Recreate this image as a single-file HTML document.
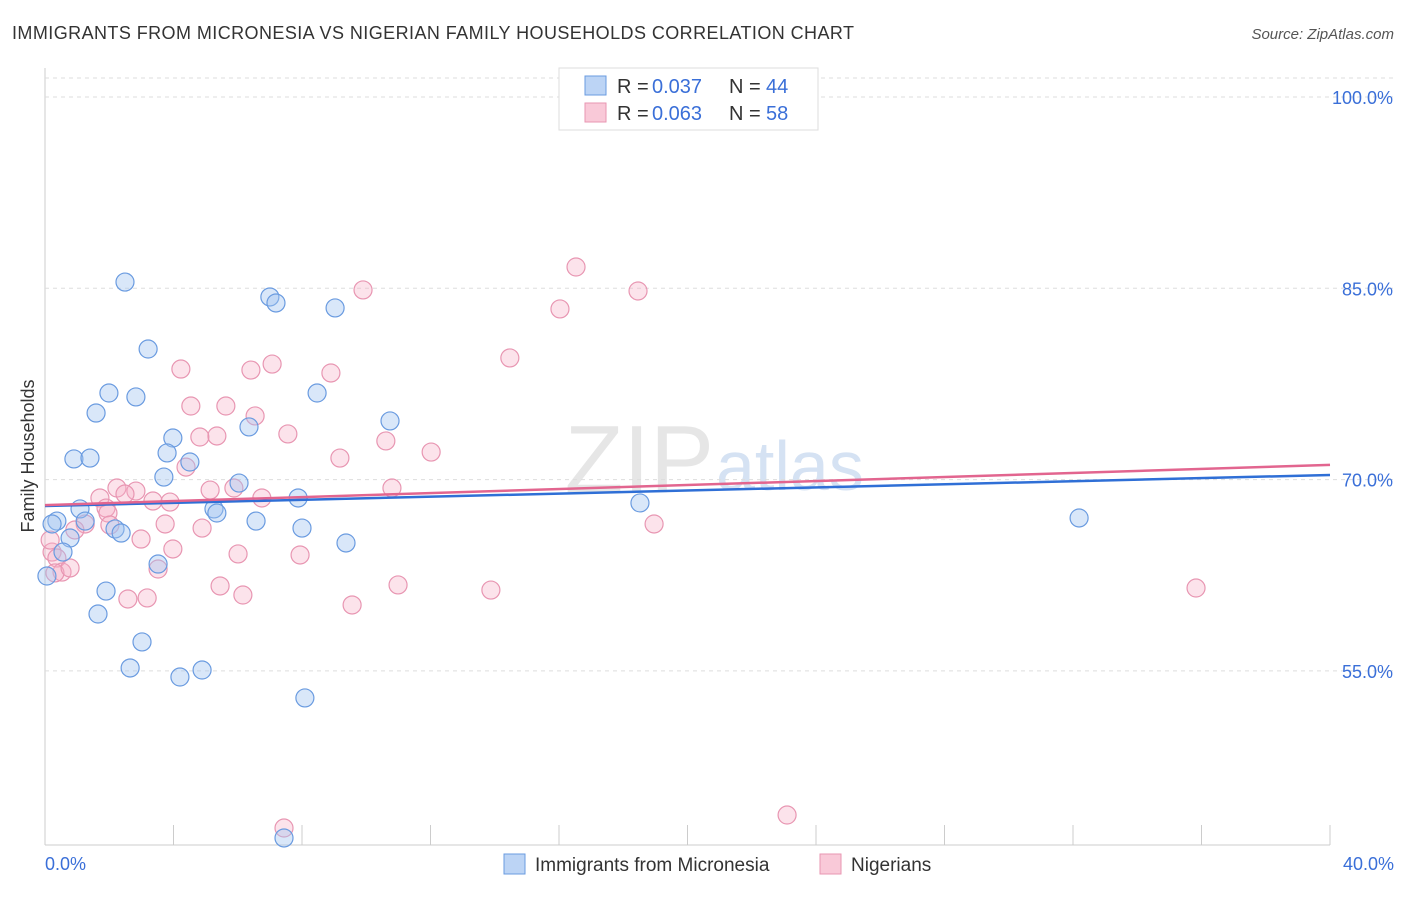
<!DOCTYPE html>
<html><head><meta charset="utf-8"><style>
body{margin:0;background:#fff;font-family:"Liberation Sans",sans-serif}
svg text{font-family:"Liberation Sans",sans-serif}
</style></head><body>
<svg width="1406" height="892" xmlns="http://www.w3.org/2000/svg">
<text x="12" y="39" font-size="18" fill="#333" textLength="842">IMMIGRANTS FROM MICRONESIA VS NIGERIAN FAMILY HOUSEHOLDS CORRELATION CHART</text>
<text x="1394" y="39" font-size="15" fill="#555" font-style="italic" text-anchor="end">Source: ZipAtlas.com</text>
<text x="714" y="492" font-size="96" fill="#e6e6e6" font-family="Liberation Serif" text-anchor="end">ZIP</text>
<text x="716" y="490" font-size="70" fill="#d5e2f3">atlas</text>
<g id="grid"></g><g id="pts"></g><g id="lines"></g>
<text transform="translate(34,456) rotate(-90)" font-size="18" fill="#333" text-anchor="middle">Family Households</text>
<text x="45" y="870" font-size="18" fill="#3a6fd8">0.0%</text>
<text x="1394" y="870" font-size="18" fill="#3a6fd8" text-anchor="end">40.0%</text>
<g>
<rect x="559" y="68" width="259" height="62" fill="#fff" stroke="#ddd"/>
<rect x="585" y="76" width="21" height="19" fill="#bcd4f5" stroke="#6a9be0"/>
<rect x="585" y="103" width="21" height="19" fill="#f9c9d8" stroke="#e896b2"/>
<text x="617" y="93" font-size="20" fill="#333">R =</text><text x="652" y="93" font-size="20" fill="#3a6fd8">0.037</text>
<text x="729" y="93" font-size="20" fill="#333">N =</text><text x="766" y="93" font-size="20" fill="#3a6fd8">44</text>
<text x="617" y="120" font-size="20" fill="#333">R =</text><text x="652" y="120" font-size="20" fill="#3a6fd8">0.063</text>
<text x="729" y="120" font-size="20" fill="#333">N =</text><text x="766" y="120" font-size="20" fill="#3a6fd8">58</text>
</g>
<g>
<rect x="504" y="854" width="21" height="20" fill="#bcd4f5" stroke="#6a9be0"/>
<text x="535" y="871" font-size="19" fill="#333">Immigrants from Micronesia</text>
<rect x="820" y="854" width="21" height="20" fill="#f9c9d8" stroke="#e896b2"/>
<text x="851" y="871" font-size="19" fill="#333">Nigerians</text>
</g>
</svg>
<script>
const yTicks=[100,85,70,55];
const xTicks=[0,4,8,12,16,20,24,28,32,36,40];
const blueX=[2.49,7.00,7.19,9.03,3.21,1.99,2.83,1.59,8.47,10.74,6.35,3.98,0.90,1.40,3.80,4.51,3.70,6.04,7.88,1.09,1.25,0.37,0.22,5.26,5.35,6.57,8.00,2.18,2.37,0.78,9.37,0.56,3.52,0.06,1.90,1.65,3.02,2.65,4.20,4.89,8.09,7.44,18.52,32.19];
const blueY=[85.49,84.32,83.85,83.46,80.24,76.79,76.48,75.22,76.79,74.60,74.13,73.26,71.62,71.69,72.09,71.38,70.20,69.73,68.56,67.70,66.75,66.75,66.52,67.70,67.38,66.75,66.20,66.13,65.81,65.42,65.03,64.32,63.38,62.44,61.26,59.46,57.27,55.23,54.52,55.07,52.88,41.90,68.17,66.99];
const pinkX=[16.53,9.90,18.46,16.03,14.47,4.23,7.07,6.41,8.90,4.54,5.63,6.54,5.35,7.56,10.61,4.82,12.02,9.18,4.39,2.24,2.83,2.49,1.71,3.36,5.14,5.88,6.75,3.89,10.80,1.90,1.96,1.25,0.93,3.74,4.89,2.99,3.98,6.01,7.94,18.96,0.22,0.37,0.53,0.31,0.78,3.52,5.45,10.99,13.88,2.58,3.18,6.16,9.56,35.83,7.44,23.10,2.02,0.16];
const pinkY=[86.67,84.87,84.79,83.38,79.54,78.67,79.06,78.59,78.36,75.77,75.77,74.99,73.42,73.58,73.03,73.34,72.16,71.69,70.98,69.34,69.10,68.87,68.56,68.32,69.18,69.34,68.56,68.24,69.34,67.77,67.38,66.52,66.05,66.52,66.20,65.34,64.56,64.17,64.09,66.52,64.32,63.85,62.75,62.68,63.07,62.99,61.66,61.74,61.34,60.64,60.72,60.95,60.17,61.50,42.68,43.70,66.44,65.26];
const blueTrend=[67.93,70.36];
const pinkTrend=[68.0,71.15];
const X=v=>45+v/40*1285, Y=v=>97+(100-v)/15*191.3;
const NS='http://www.w3.org/2000/svg';
function mk(t,a,p){const e=document.createElementNS(NS,t);for(const k in a)e.setAttribute(k,a[k]);p.appendChild(e);return e;}
const g=document.getElementById('grid');
let ax=mk('line',{x1:45,y1:68,x2:45,y2:845,stroke:'#ccc'},g);


let bx=mk('line',{x1:45,y1:845,x2:1330,y2:845,stroke:'#ccc'},g);


let tl=mk('line',{x1:45,y1:78,x2:1393,y2:78,stroke:'#ddd','stroke-dasharray':'4,4'},g);


yTicks.forEach(v=>{
 const l=mk('line',{x1:45,y1:Y(v),x2:1393,y2:Y(v),stroke:'#ddd','stroke-dasharray':'4,4'},g);
 
 
 const t=mk('text',{x:1393,y:Y(v)+7,'font-size':18,fill:'#3a6fd8','text-anchor':'end'},g);t.textContent=v.toFixed(1)+'%';
 
 
});
xTicks.forEach(v=>{
 const l=mk('line',{x1:X(v),y1:825,x2:X(v),y2:845,stroke:'#ccc'},g);
 
 
});
const p=document.getElementById('pts');
pinkX.forEach((v,i)=>{const c=mk('circle',{cx:X(v),cy:Y(pinkY[i]),r:9,fill:'rgba(245,175,198,0.35)',stroke:'#e896b2','stroke-width':1.2},p);
 
 });
blueX.forEach((v,i)=>{const c=mk('circle',{cx:X(v),cy:Y(blueY[i]),r:9,fill:'rgba(160,195,240,0.4)',stroke:'#6a9be0','stroke-width':1.2},p);
 
 });
const L=document.getElementById('lines');
let b=mk('line',{x1:X(0),y1:Y(blueTrend[0]),x2:X(40),y2:Y(blueTrend[1]),stroke:'#2f6fd6','stroke-width':2.5},L);


let q=mk('line',{x1:X(0),y1:Y(pinkTrend[0]),x2:X(40),y2:Y(pinkTrend[1]),stroke:'#e2658f','stroke-width':2.5},L);


</script>
</body></html>
